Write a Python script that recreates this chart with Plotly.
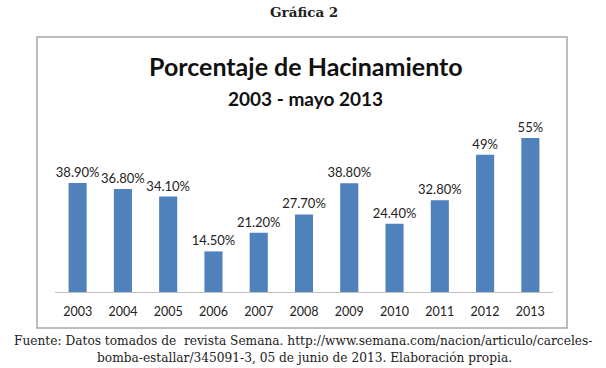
import plotly.graph_objects as go

years = ["2003", "2004", "2005", "2006", "2007", "2008", "2009", "2010", "2011", "2012", "2013"]
values = [38.9, 36.8, 34.1, 14.5, 21.2, 27.7, 38.8, 24.4, 32.8, 49, 55]
labels = ["38.90%", "36.80%", "34.10%", "14.50%", "21.20%", "27.70%", "38.80%", "24.40%", "32.80%", "49%", "55%"]

W, H = 606, 368
L, R, T, B = 55, 553, 124, 292  # plot area pixel box


def px(x):
    return (x - L) / (R - L)


def py(y):
    return (B - y) / (B - T)


fig = go.Figure(go.Bar(
    x=years, y=values, text=labels, textposition="outside",
    textfont=dict(family="Lato, Open Sans, sans-serif", size=13, color="#222"),
    marker=dict(color="#4f81bd", line=dict(width=0)),
    width=0.4, cliponaxis=False, constraintext="none", hoverinfo="skip",
))

fig.update_layout(
    width=W, height=H,
    margin=dict(l=L, r=W - R, t=T, b=H - B, pad=0),
    paper_bgcolor="white", plot_bgcolor="white",
    showlegend=False,
    font=dict(family="Lato, Open Sans, sans-serif", color="#222"),
    xaxis=dict(showline=True, linecolor="#bfbfbf", linewidth=1, ticks="",
               tickfont=dict(size=12.5, color="#222"), showgrid=False,
               ticklabelstandoff=8, range=[-0.5, 10.5]),
    yaxis=dict(visible=False, range=[0, 60]),
)

fig.add_shape(type="rect", xref="paper", yref="paper",
              x0=px(37), x1=px(567), y0=py(328), y1=py(37),
              line=dict(color="#a6a6a6", width=1.5), layer="below")


def note(text, x, y, size, family, color="#111"):
    fig.add_annotation(text=text, xref="paper", yref="paper", x=px(x), y=py(y),
                       xanchor="center", yanchor="middle", showarrow=False,
                       font=dict(family=family, size=size, color=color))


sans = "Lato, Open Sans, sans-serif"
serif = "DejaVu Serif, serif"
note("<b>Porcentaje de Hacinamiento</b>", 306, 66, 25, sans)
note("<b>2003 - mayo 2013</b>", 305, 98, 19, sans)
note("<b>Gráfica 2</b>", 304, 12, 13.5, serif, "#222")
note("Fuente: Datos tomados de  revista Semana. http://www.semana.com/nacion/articulo/carceles-",
     303, 341, 12.2, serif, "#222")
note("bomba-estallar/345091-3, 05 de junio de 2013. Elaboración propia.", 304, 358, 12.2, serif, "#222")

fig.write_html("out.html", config={"displayModeBar": False},
               post_script="document.body.style.margin='0';")
